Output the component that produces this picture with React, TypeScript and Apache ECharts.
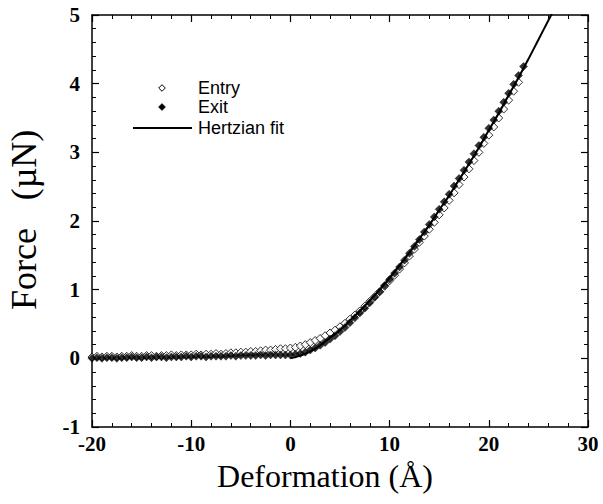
import React, { useEffect, useRef } from "react";
import * as echarts from "echarts";

const xTicks = [-20, -10, 0, 10, 20, 30];
const yTicks = [-1, 0, 1, 2, 3, 4, 5];

const entryX = [
  -20, -19.5, -19, -18.5, -18, -17.5, -17, -16.5, -16, -15.5, -15, -14.5, -14, -13.5, -13, -12.5,
  -12, -11.5, -11, -10.5, -10, -9.5, -9, -8.5, -8, -7.5, -7, -6.5, -6, -5.5, -5, -4.5, -4, -3.5,
  -3, -2.5, -2, -1.5, -1, -0.5, 0, 0.5, 1, 1.5, 2, 2.5, 3, 3.5, 4, 4.5, 5, 5.5, 6, 6.5, 7, 7.5, 8,
  8.5, 9, 9.5, 10, 10.5, 11, 11.5, 12, 12.5, 13, 13.5, 14, 14.5, 15, 15.5, 16, 16.5, 17, 17.5, 18,
  18.5, 19, 19.5, 20, 20.5, 21, 21.5, 22, 22.5, 23,
];
const entryY = [
  0.02, 0.03, 0.02, 0.03, 0.03, 0.02, 0.03, 0.03, 0.04, 0.03, 0.03, 0.04, 0.04, 0.03, 0.04, 0.04,
  0.05, 0.04, 0.05, 0.05, 0.05, 0.06, 0.05, 0.06, 0.06, 0.07, 0.06, 0.07, 0.08, 0.08, 0.09, 0.09,
  0.1, 0.1, 0.11, 0.12, 0.12, 0.13, 0.14, 0.14, 0.15, 0.16, 0.18, 0.2, 0.23, 0.26, 0.29, 0.33, 0.37,
  0.41, 0.46, 0.51, 0.57, 0.63, 0.69, 0.76, 0.83, 0.9, 0.97, 1.05, 1.13, 1.21, 1.3, 1.39, 1.49, 1.59,
  1.69, 1.78, 1.88, 1.98, 2.09, 2.19, 2.3, 2.41, 2.53, 2.64, 2.76, 2.88, 3.0, 3.13, 3.25, 3.37, 3.5,
  3.63, 3.76, 3.89, 4.02,
];

const exitX = [
  -20, -19.5, -19, -18.5, -18, -17.5, -17, -16.5, -16, -15.5, -15, -14.5, -14, -13.5, -13, -12.5,
  -12, -11.5, -11, -10.5, -10, -9.5, -9, -8.5, -8, -7.5, -7, -6.5, -6, -5.5, -5, -4.5, -4, -3.5,
  -3, -2.5, -2, -1.5, -1, -0.5, 0, 0.5, 1, 1.5, 2, 2.5, 3, 3.5, 4, 4.5, 5, 5.5, 6, 6.5, 7, 7.5, 8,
  8.5, 9, 9.5, 10, 10.5, 11, 11.5, 12, 12.5, 13, 13.5, 14, 14.5, 15, 15.5, 16, 16.5, 17, 17.5, 18,
  18.5, 19, 19.5, 20, 20.5, 21, 21.5, 22, 22.5, 23, 23.5,
];
const exitY = [
  0.0, 0.01, 0.0, 0.01, 0.01, 0.0, 0.01, 0.01, 0.02, 0.01, 0.01, 0.02, 0.01, 0.02, 0.02, 0.01,
  0.02, 0.02, 0.02, 0.03, 0.02, 0.03, 0.03, 0.02, 0.03, 0.03, 0.03, 0.03, 0.04, 0.03, 0.04, 0.04,
  0.04, 0.04, 0.05, 0.04, 0.05, 0.05, 0.05, 0.05, 0.05, 0.06, 0.07, 0.09, 0.12, 0.15, 0.19, 0.23,
  0.28, 0.33, 0.39, 0.45, 0.52, 0.59, 0.66, 0.73, 0.81, 0.89, 0.97, 1.06, 1.15, 1.24, 1.33, 1.43,
  1.53, 1.63, 1.73, 1.84, 1.95, 2.06, 2.17, 2.28, 2.39, 2.51, 2.62, 2.74, 2.86, 2.98, 3.1, 3.22,
  3.35, 3.47, 3.6, 3.73, 3.86, 3.99, 4.12, 4.25,
];

const fitX = [0, 1, 2, 3, 4, 5, 6, 7, 8, 9, 10, 11, 12, 13, 14, 15, 16, 17, 18, 19, 20, 21, 22, 23, 24, 25, 26, 26.4];
const fitY = [
  0, 0.04, 0.1, 0.19, 0.3, 0.41, 0.55, 0.69, 0.84, 1.0, 1.17, 1.35, 1.54, 1.74, 1.94, 2.16, 2.37,
  2.6, 2.83, 3.07, 3.32, 3.57, 3.83, 4.09, 4.36, 4.64, 4.92, 5.03,
];

const legendNames = ["Entry", "Exit", "Hertzian fit"];
const xTitle = "Deformation (Å)";
const yTitleParts = ["Force", "(µN)"];

const zip = (xs: number[], ys: number[]) => xs.map((x, i) => [x, ys[i]]);

const tickFont = {
  fontFamily: "'Liberation Serif', 'Times New Roman', serif",
  fontWeight: "bold" as const,
  fontSize: 21,
  color: "#000",
};

export default function App() {
  const ref = useRef<HTMLDivElement>(null);
  useEffect(() => {
    if (!ref.current) return;
    const chart = echarts.init(ref.current, undefined, { renderer: "svg" });
    const baseAxis = {
      type: "value" as const,
      axisLine: { show: true, onZero: false, lineStyle: { color: "#000", width: 1.5 } },
      axisTick: { show: true, inside: true, length: 7, lineStyle: { color: "#000", width: 1.2 } },
      minorTick: { show: true, splitNumber: 5, length: 4, lineStyle: { color: "#000", width: 1 } },
      splitLine: { show: false },
      minorSplitLine: { show: false },
    };
    const diamond = (cx: number, cy: number, r: number) => [
      [cx, cy - r],
      [cx + r, cy],
      [cx, cy + r],
      [cx - r, cy],
    ];
    const legendFont = "18px 'Liberation Sans', Arial, sans-serif";
    const titleFont = "36px 'Liberation Serif', 'Times New Roman', serif";
    chart.setOption({
      animation: false,
      backgroundColor: "#fff",
      grid: { left: 92, top: 15, right: 15, bottom: 77, containLabel: false },
      xAxis: [
        {
          ...baseAxis,
          position: "bottom",
          min: xTicks[0],
          max: xTicks[xTicks.length - 1],
          interval: 10,
          axisLabel: { ...tickFont, margin: 6, formatter: (v: number) => String(v) },
        },
        {
          ...baseAxis,
          position: "top",
          min: xTicks[0],
          max: xTicks[xTicks.length - 1],
          interval: 10,
          axisLabel: { show: false },
        },
      ],
      yAxis: [
        {
          ...baseAxis,
          position: "left",
          min: yTicks[0],
          max: yTicks[yTicks.length - 1],
          interval: 1,
          axisLabel: { ...tickFont, margin: 12, formatter: (v: number) => String(v) },
        },
        {
          ...baseAxis,
          position: "right",
          min: yTicks[0],
          max: yTicks[yTicks.length - 1],
          interval: 1,
          axisLabel: { show: false },
        },
      ],
      series: [
        {
          name: legendNames[0],
          type: "scatter",
          symbol: "diamond",
          symbolSize: 8,
          data: zip(entryX, entryY),
          itemStyle: { color: "#fff", borderColor: "#000", borderWidth: 1 },
          z: 2,
        },
        {
          name: legendNames[1],
          type: "scatter",
          symbol: "diamond",
          symbolSize: 8,
          data: zip(exitX, exitY),
          itemStyle: { color: "#000", borderColor: "#000", borderWidth: 0.5 },
          z: 3,
        },
        {
          name: legendNames[2],
          type: "line",
          showSymbol: false,
          smooth: true,
          clip: true,
          data: zip(fitX, fitY),
          lineStyle: { color: "#000", width: 2 },
          z: 4,
        },
      ],
      graphic: [
        {
          type: "polygon",
          shape: { points: diamond(162, 88, 3.3) },
          style: { fill: "#fff", stroke: "#000", lineWidth: 1 },
        },
        {
          type: "polygon",
          shape: { points: diamond(162, 107, 3.5) },
          style: { fill: "#000", stroke: "#000", lineWidth: 0.5 },
        },
        {
          type: "line",
          shape: { x1: 133, y1: 128, x2: 192, y2: 128 },
          style: { stroke: "#000", lineWidth: 2 },
        },
        {
          type: "text",
          x: 198,
          y: 88,
          style: { text: legendNames[0], font: legendFont, fill: "#000", textAlign: "left", textVerticalAlign: "middle" },
        },
        {
          type: "text",
          x: 198,
          y: 106.5,
          style: { text: legendNames[1], font: legendFont, fill: "#000", textAlign: "left", textVerticalAlign: "middle" },
        },
        {
          type: "text",
          x: 198,
          y: 127.5,
          style: { text: legendNames[2], font: legendFont, fill: "#000", textAlign: "left", textVerticalAlign: "middle" },
        },
        {
          type: "text",
          x: 325,
          y: 476,
          style: {
            text: xTitle,
            font: "32px 'Liberation Serif', 'Times New Roman', serif",
            fill: "#000",
            textAlign: "center",
            textVerticalAlign: "middle",
          },
        },
        {
          type: "text",
          x: 24,
          y: 269,
          rotation: Math.PI / 2,
          style: {
            text: yTitleParts[0],
            font: titleFont,
            fill: "#000",
            textAlign: "center",
            textVerticalAlign: "middle",
          },
        },
        {
          type: "text",
          x: 24,
          y: 165,
          rotation: Math.PI / 2,
          style: {
            text: yTitleParts[1],
            font: titleFont,
            fill: "#000",
            textAlign: "center",
            textVerticalAlign: "middle",
          },
        },
      ],
    });
    return () => chart.dispose();
  }, []);
  return <div ref={ref} style={{ width: 603, height: 504, position: "absolute", left: 0, top: 0 }} />;
}
